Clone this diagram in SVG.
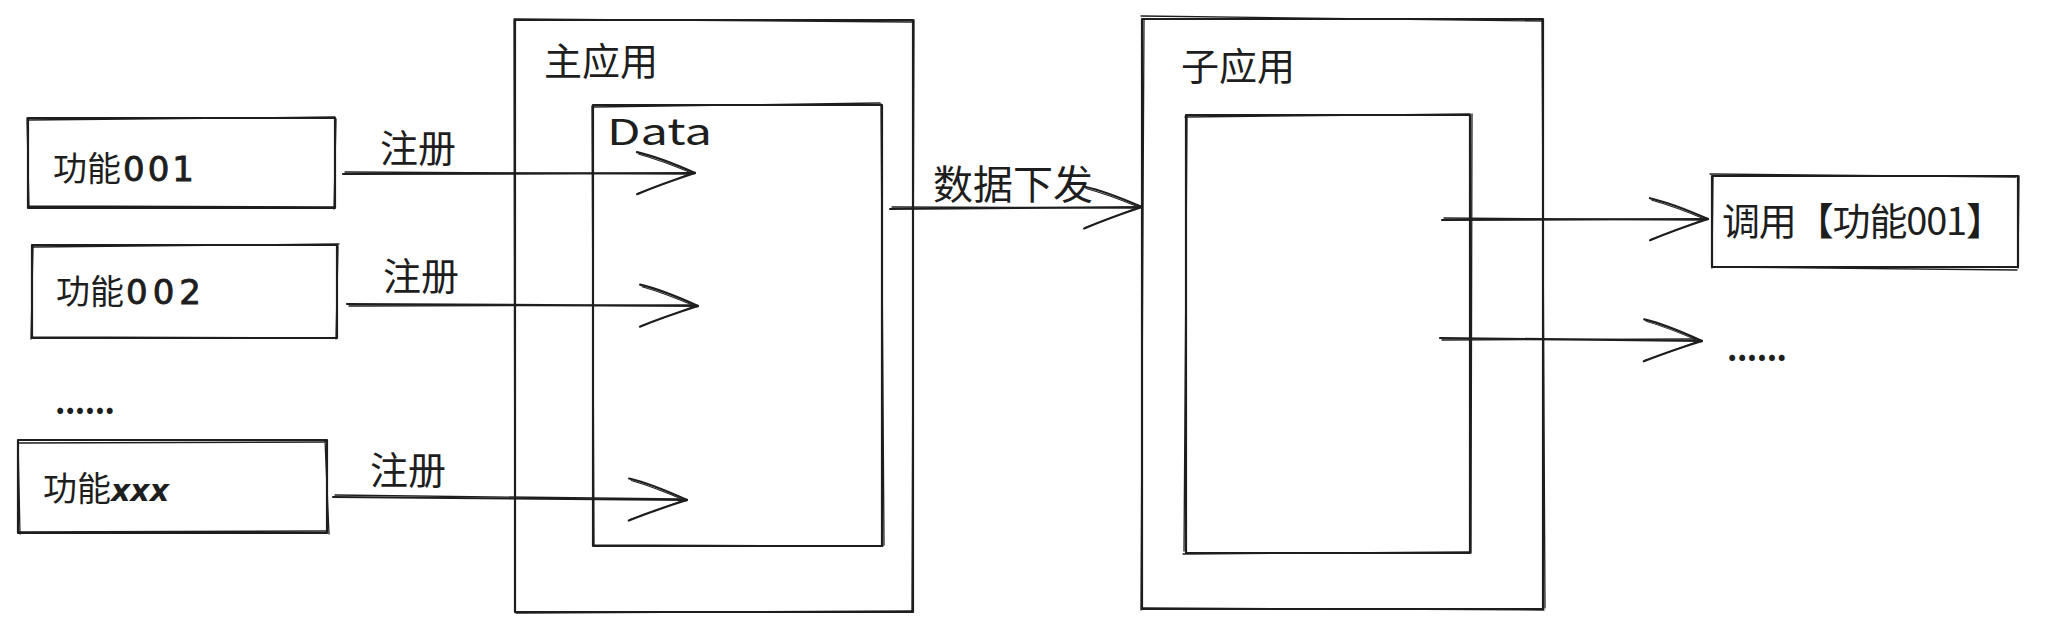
<svg xmlns="http://www.w3.org/2000/svg" width="2049" height="631" viewBox="0 0 2049 631">
<style>
.s{fill:none;stroke:#1e1e1e;stroke-width:2.2;stroke-linecap:round;stroke-linejoin:round}
.s2{fill:none;stroke:#1e1e1e;stroke-width:1.3;stroke-linecap:round}
.t{font-family:"Noto Sans CJK SC","Noto Sans",sans-serif;fill:#1e1e1e}
.d{font-family:"DejaVu Sans",sans-serif;font-weight:normal;stroke:#1e1e1e;stroke-width:0.9}
.f32{font-size:32px}
.f38{font-size:38px}
.f40{font-size:40px}
</style>
<defs>
<marker id="ah" markerUnits="userSpaceOnUse" viewBox="-64 -26 70 52" markerWidth="70" markerHeight="52" refX="0" refY="0" orient="auto" overflow="visible">
<path d="M-58,-21 Q-36,-16 0,0 M-58,21 Q-34,11 0,0" fill="none" stroke="#1e1e1e" stroke-width="2.2" stroke-linecap="round"/>
<path d="M-56,-19 Q-34,-13 -1,1 M-57,20 Q-33,12 -1,-1" fill="none" stroke="#1e1e1e" stroke-width="1" stroke-linecap="round"/>
</marker>
</defs>
<rect width="2049" height="631" fill="#ffffff"/>

<g id="main-app">
<rect class="s" x="515" y="20" width="398" height="592"/>
<path class="s2" d="M514,19 L912,22 M914,20 L912,611 M913,611 L516,613 M515,612 L514,20"/>
<text class="t f38" x="544" y="75">主应用</text>
</g>

<g id="data-box">
<rect class="s" x="593" y="105" width="289" height="441"/>
<path class="s2" d="M593,107 L880,103 M881,104 L884,545 M883,546 L594,545 M594,546 L592,106"/>
<text class="t" x="607" y="145" font-size="36" textLength="105" lengthAdjust="spacingAndGlyphs">Data</text>
</g>

<g id="sub-app">
<rect class="s" x="1142" y="19" width="401" height="590"/>
<path class="s2" d="M1141,16 L1543,21 M1542,20 L1545,608 M1544,610 L1142,608 M1141,610 L1144,20"/>
<text class="t f38" x="1181" y="80">子应用</text>
</g>

<g id="sub-inner">
<rect class="s" x="1186" y="115" width="284" height="438"/>
<path class="s2" d="M1185,117 L1470,114 M1472,114 L1471,553 M1470,552 L1183,554 M1184,551 L1187,116"/>
</g>

<g id="func-001">
<rect class="s" x="28" y="118" width="307" height="90"/>
<path class="s2" d="M27,120 L335,117 M336,119 L334,209 M335,207 L29,206 M29,208 L27,118"/>
<text class="t" font-size="34" x="53" y="181">功能<tspan class="d" dx="2" letter-spacing="3">001</tspan></text>
</g>

<g id="func-002">
<rect class="s" x="32" y="245" width="305" height="93"/>
<path class="s2" d="M33,247 L339,244 M338,246 L336,339 M337,338 L31,337 M31,339 L33,246"/>
<text class="t" font-size="34" x="56" y="304">功能<tspan class="d" dx="2" letter-spacing="5">002</tspan></text>
</g>

<g id="func-more">
<text class="t f32" x="55" y="414" font-weight="bold" textLength="60" lengthAdjust="spacing">......</text>
</g>

<g id="func-xxx">
<rect class="s" x="18" y="440" width="309" height="93"/>
<path class="s2" d="M19,443 L326,442 M325,440 L329,534 M327,531 L19,532 M20,534 L18,441"/>
<text class="t" font-size="34" x="43" y="501">功能<tspan font-family="DejaVu Sans, sans-serif" font-weight="bold" font-size="30" font-style="italic">xxx</tspan></text>
</g>

<g id="call-func-001">
<rect class="s" x="1712" y="176" width="306" height="91"/>
<path class="s2" d="M1710,174 L2016,177 M2019,176 L2018,268 M2017,270 L1713,267 M1712,268 L1713,177"/>
<text class="t f38" x="1722" y="235" textLength="282" lengthAdjust="spacing">调用【功能001】</text>
</g>

<g id="call-more">
<text class="t f32" x="1727" y="361" font-weight="bold" textLength="60" lengthAdjust="spacing">......</text>
</g>

<g id="labels">
<text class="t f38" x="380" y="162">注册</text>
<text class="t f38" x="383" y="290">注册</text>
<text class="t f38" x="370" y="484">注册</text>
<text class="t f40" x="933" y="199">数据下发</text>
</g>

<g id="connectors">
<path class="s" d="M343,174 L695,173" marker-end="url(#ah)"/>
<path class="s2" d="M345,172 L690,174"/>
<path class="s" d="M347,304 L698,306" marker-end="url(#ah)"/>
<path class="s2" d="M349,306 L692,305"/>
<path class="s" d="M333,497 L687,500" marker-end="url(#ah)"/>
<path class="s2" d="M335,495 L680,499"/>
<path class="s" d="M890,209 L1142,207" marker-end="url(#ah)"/>
<path class="s2" d="M892,207 L1136,208"/>
<path class="s" d="M1442,220 L1708,219" marker-end="url(#ah)"/>
<path class="s2" d="M1444,218 L1702,220"/>
<path class="s" d="M1440,338 L1702,341" marker-end="url(#ah)"/>
<path class="s2" d="M1442,340 L1696,339"/>
</g>
</svg>
